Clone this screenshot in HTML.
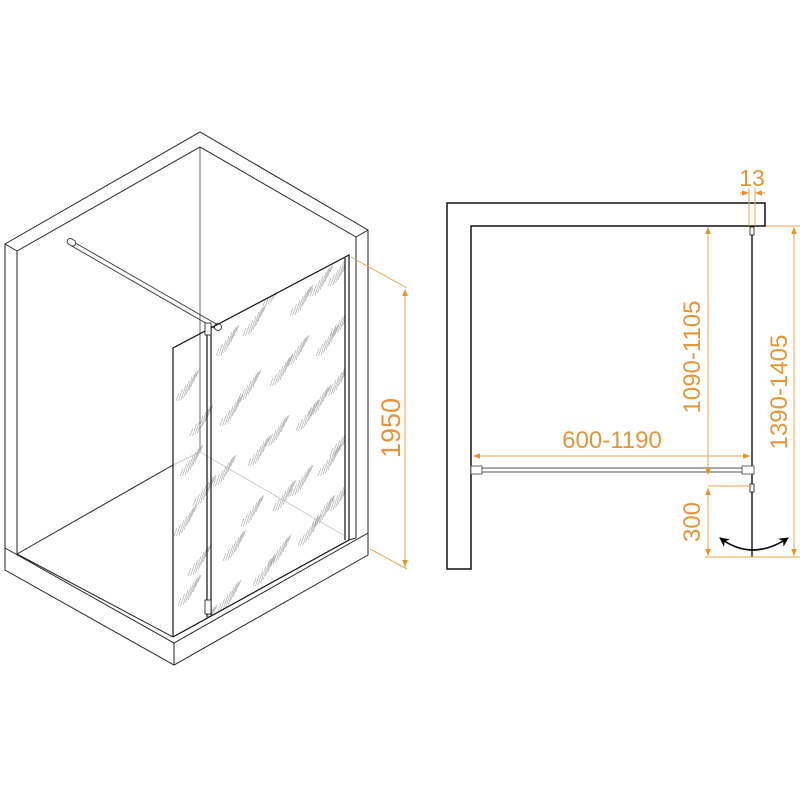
<!DOCTYPE html>
<html><head><meta charset="utf-8"><style>
html,body{margin:0;padding:0;background:#fff}
svg{display:block}
text{font-family:"Liberation Sans",sans-serif;fill:#e3963a}
</style></head><body>
<svg width="800" height="800" viewBox="0 0 800 800" xmlns="http://www.w3.org/2000/svg">
<defs>
<g id="st" stroke="#a8a8a8" stroke-width="0.6">
<line x1="0" y1="6" x2="3" y2="-2"/>
<line x1="2.5" y1="6" x2="6.5" y2="-6"/>
<line x1="5" y1="5" x2="10" y2="-10"/>
<line x1="7.5" y1="3" x2="13" y2="-14"/>
<line x1="10" y1="0" x2="16" y2="-18"/>
<line x1="12.5" y1="-4" x2="18.5" y2="-21"/>
<line x1="15" y1="-8" x2="20" y2="-23"/>
<line x1="17.5" y1="-13" x2="21.5" y2="-24"/>
<line x1="20" y1="-18" x2="23" y2="-25"/>
</g>
<clipPath id="gl"><polygon points="173,348 345,257 345,542 173,637"/></clipPath>
<marker id="oa" viewBox="0 0 10 10" refX="10" refY="5" markerWidth="7" markerHeight="7" orient="auto-start-reverse"><path d="M0,1 L10,5 L0,9 z" fill="#e8922e"/></marker>
<marker id="ba" viewBox="0 0 10 10" refX="9" refY="5" markerWidth="6" markerHeight="6" orient="auto-start-reverse"><path d="M0,0 L10,5 L0,10 L3,5 z" fill="#000"/></marker>
</defs>

<g fill="none" stroke="#222" stroke-width="1">
<polyline points="5,548 5,244 200,132 368,230 368,533"/>
<polyline points="17,554 17,251 200,147 356,237 356,538"/>
<line x1="5" y1="244" x2="17" y2="251"/>
<line x1="356" y1="237" x2="368" y2="230"/>
<line x1="200" y1="147" x2="200" y2="452" stroke="#444" stroke-width="0.8"/>
<line x1="17" y1="554" x2="173" y2="465"/>
<line x1="173" y1="465" x2="200" y2="452" stroke="#ccc"/>
<line x1="200" y1="452" x2="345" y2="536" stroke="#ccc"/>
<polyline points="5,548 5,570 174,665 368,555 368,533"/>
<polyline points="5,548 174,643 368,533"/>
<line x1="174" y1="643" x2="174" y2="665"/>
<line x1="17" y1="554" x2="173" y2="637"/>
<line x1="349" y1="540" x2="356" y2="538"/>
</g>
<g stroke="#333" fill="#fff" stroke-width="0.9">
<line x1="72" y1="241" x2="218" y2="325"/>
<line x1="70" y1="245" x2="216" y2="329"/>
<rect x="67" y="239" width="9" height="6" rx="3" transform="rotate(30 71 242)"/>
<circle cx="218" cy="327" r="3.5"/>
</g>
<g clip-path="url(#gl)">
<use href="#st" x="176" y="395"/><use href="#st" x="180" y="470"/><use href="#st" x="174" y="530"/><use href="#st" x="178" y="600"/>
<use href="#st" x="190" y="430"/><use href="#st" x="193" y="500"/><use href="#st" x="188" y="570"/><use href="#st" x="194" y="630"/>
<use href="#st" x="216" y="350"/><use href="#st" x="220" y="420"/><use href="#st" x="213" y="480"/><use href="#st" x="223" y="555"/><use href="#st" x="218" y="605"/>
<use href="#st" x="243" y="330"/><use href="#st" x="238" y="395"/><use href="#st" x="248" y="460"/><use href="#st" x="241" y="520"/><use href="#st" x="253" y="580"/>
<use href="#st" x="263" y="300"/><use href="#st" x="270" y="380"/><use href="#st" x="266" y="440"/><use href="#st" x="273" y="505"/><use href="#st" x="268" y="560"/>
<use href="#st" x="290" y="310"/><use href="#st" x="286" y="360"/><use href="#st" x="296" y="425"/><use href="#st" x="290" y="490"/><use href="#st" x="298" y="540"/>
<use href="#st" x="310" y="290"/><use href="#st" x="316" y="350"/><use href="#st" x="308" y="410"/><use href="#st" x="318" y="470"/><use href="#st" x="312" y="520"/>
<use href="#st" x="328" y="280"/><use href="#st" x="330" y="330"/><use href="#st" x="326" y="390"/><use href="#st" x="330" y="450"/><use href="#st" x="328" y="505"/>
</g>
<g fill="none" stroke="#111" stroke-width="1.2">
<polyline points="173,637 173,348 349,255 349,540 173,637"/>
<line x1="345" y1="258" x2="345" y2="540"/>
<line x1="207" y1="330" x2="207" y2="617"/>
<line x1="211" y1="328" x2="211" y2="615"/>
<rect x="205" y="323" width="6" height="12" stroke-width="0.8" fill="#fff"/>
<rect x="205" y="600" width="6" height="14" stroke-width="0.8" fill="#fff"/>
</g>
<g stroke="#e8a552" stroke-width="1" fill="none">
<line x1="351" y1="257" x2="407" y2="288"/>
<line x1="370" y1="549" x2="407" y2="569"/>
<line x1="405" y1="289" x2="405" y2="567" marker-start="url(#oa)" marker-end="url(#oa)"/>
</g>
<text x="0" y="0" font-size="27" transform="translate(400,428) rotate(-90)" text-anchor="middle">1950</text>

<g fill="none" stroke="#111" stroke-width="1.5">
<polygon points="447,203 765,203 765,226 471,226 471,569 447,569"/>
</g>
<line x1="752" y1="226" x2="752" y2="557" stroke="#111" stroke-width="1.4"/>
<rect x="750" y="227" width="4" height="8" fill="#fff" stroke="#111" stroke-width="0.8"/>
<rect x="750" y="484" width="4" height="8" fill="#fff" stroke="#111" stroke-width="0.8"/>
<g stroke="#555" stroke-width="0.9" fill="#fff">
<line x1="482" y1="468" x2="742" y2="468"/>
<line x1="482" y1="472" x2="742" y2="472"/>
<rect x="471" y="466" width="11" height="8"/>
<rect x="742" y="466" width="12" height="8"/>
</g>
<g stroke="#e8a552" stroke-width="1" fill="none">
<line x1="749" y1="188" x2="749" y2="226"/>
<line x1="755" y1="188" x2="755" y2="226"/>
<line x1="740" y1="193" x2="749" y2="193" marker-end="url(#oa)"/>
<line x1="765" y1="193" x2="755" y2="193" marker-end="url(#oa)"/>
<line x1="473" y1="456" x2="750" y2="456" marker-start="url(#oa)" marker-end="url(#oa)"/>
<line x1="708" y1="227" x2="708" y2="475" marker-start="url(#oa)" marker-end="url(#oa)"/>
<line x1="708" y1="488" x2="708" y2="556" marker-start="url(#oa)" marker-end="url(#oa)"/>
<line x1="708" y1="486" x2="752" y2="486"/>
<line x1="705" y1="557" x2="800" y2="557"/>
<line x1="766" y1="226" x2="800" y2="226"/>
<line x1="794" y1="227" x2="794" y2="556" marker-start="url(#oa)" marker-end="url(#oa)"/>
</g>
<text x="752" y="186" font-size="23" text-anchor="middle">13</text>
<text x="612" y="448" font-size="24" text-anchor="middle">600-1190</text>
<text font-size="24" transform="translate(700,357) rotate(-90)" text-anchor="middle">1090-1105</text>
<text font-size="24" transform="translate(787,392) rotate(-90)" text-anchor="middle">1390-1405</text>
<text font-size="24" transform="translate(700,522) rotate(-90)" text-anchor="middle">300</text>
<path d="M720,538 Q752,562 788,538" fill="none" stroke="#000" stroke-width="1.6" marker-start="url(#ba)" marker-end="url(#ba)"/>
</svg>
</body></html>
